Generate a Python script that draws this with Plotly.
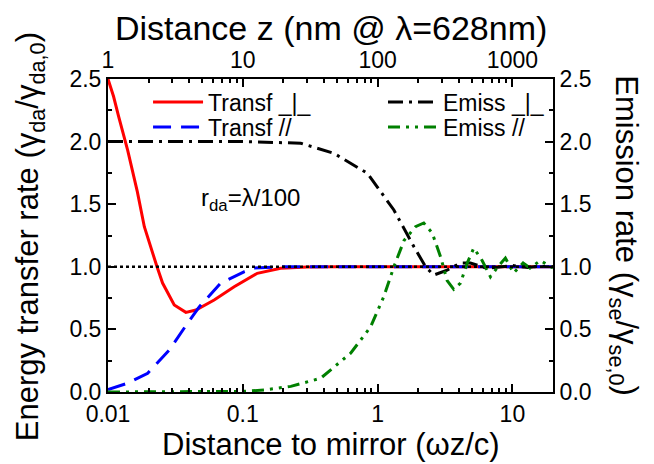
import plotly.graph_objects as go

# ---------------- data ----------------
transf_perp_x = [0.01, 0.011, 0.012, 0.014, 0.0165, 0.0186, 0.0231, 0.0254, 0.031, 0.0378,
                 0.0449, 0.0613, 0.0863, 0.128, 0.191, 0.3, 0.5, 1, 2, 5, 10, 20]
transf_perp_y = [2.5, 2.36, 2.2, 1.93, 1.6, 1.32, 1.0, 0.87, 0.695, 0.636,
                 0.655, 0.735, 0.84, 0.948, 0.988, 0.998, 1.0, 1.0, 1.0, 1.0, 1.0, 1.0]

transf_par_x = [0.01, 0.0108, 0.014, 0.0197, 0.0285, 0.0389, 0.0475, 0.0687, 0.102, 0.12,
                0.2, 0.5, 1, 2, 5, 10, 20]
transf_par_y = [0.02, 0.03, 0.07, 0.15, 0.335, 0.55, 0.68, 0.87, 0.96, 0.99,
                1.0, 1.0, 1.0, 1.0, 1.0, 1.0, 1.0]

emiss_perp_x = [0.01, 0.05, 0.1, 0.269, 0.475, 0.839, 1.32, 1.86, 2.27, 2.61, 3.28, 4.12,
                4.88, 6.46, 8.1, 10, 13, 16, 20]
emiss_perp_y = [2.0, 2.0, 2.0, 1.987, 1.906, 1.747, 1.454, 1.16, 1.0, 0.934, 0.974, 1.03,
                1.03, 0.988, 1.0, 1.01, 0.995, 1.005, 1.0]

emiss_par_x = [0.01, 0.05, 0.1, 0.144, 0.227, 0.378, 0.631, 0.887, 1.11, 1.32, 1.57, 1.91,
               2.2, 2.54, 2.93, 3.28, 3.67, 4.12, 4.62, 5.17, 5.96, 6.87, 7.8, 8.87, 10.2,
               12, 13.5, 16.1, 20]
emiss_par_y = [0.0, 0.0, 0.005, 0.016, 0.045, 0.11, 0.31, 0.52, 0.76, 1.0, 1.21, 1.32,
               1.35, 1.27, 1.08, 0.89, 0.82, 0.87, 1.03, 1.15, 1.05, 0.92, 1.0, 1.07, 0.95,
               1.03, 0.99, 1.05, 0.99]

ref_x = [0.01, 20]
ref_y = [1.0, 1.0]

bottom_tickvals = [0.01, 0.1, 1, 10]
bottom_ticktext = ["0.01", "0.1", "1", "10"]
top_tickvals = [1, 10, 100, 1000]
top_ticktext = ["1", "10", "100", "1000"]
y_tickvals = [0.0, 0.5, 1.0, 1.5, 2.0, 2.5]
y_ticktext = ["0.0", "0.5", "1.0", "1.5", "2.0", "2.5"]
y_minor_vals = [0.25, 0.75, 1.25, 1.75, 2.25]

bottom_minor_vals = [m * d for d in (0.01, 0.1, 1) for m in range(2, 10)]
top_minor_vals = [m * d for d in (1, 10, 100) for m in range(2, 10)]

# ---------------- figure ----------------
FONT = "Liberation Sans, Arial, sans-serif"
fig = go.Figure()

fig.add_trace(go.Scatter(x=transf_perp_x, y=transf_perp_y, mode="lines", name="Transf _|_",
                         line=dict(color="#ff0000", width=3), legend="legend"))
fig.add_trace(go.Scatter(x=transf_par_x, y=transf_par_y, mode="lines", name="Transf //",
                         line=dict(color="#0000ff", width=3, dash="18px,10px"), legend="legend2"))
fig.add_trace(go.Scatter(x=emiss_perp_x, y=emiss_perp_y, mode="lines", name="Emiss _|_",
                         line=dict(color="#000000", width=3, dash="15px,6px,3px,6px"),
                         legend="legend3"))
fig.add_trace(go.Scatter(x=emiss_par_x, y=emiss_par_y, mode="lines", name="Emiss //",
                         line=dict(color="#008000", width=3, dash="12px,6px,3px,6px,3px,6px"),
                         legend="legend4"))
fig.add_trace(go.Scatter(x=ref_x, y=ref_y, mode="lines", showlegend=False,
                         line=dict(color="#000000", width=2.5, dash="dot")))
# invisible traces to activate top & right axes
fig.add_trace(go.Scatter(x=[1, 2000], y=[None, None], xaxis="x2", yaxis="y",
                         showlegend=False, hoverinfo="skip"))
fig.add_trace(go.Scatter(x=[0.01, 20], y=[None, None], xaxis="x", yaxis="y2",
                         showlegend=False, hoverinfo="skip"))

common_axis = dict(showline=True, linecolor="black", linewidth=2, ticks="inside",
                   ticklen=8, tickwidth=2, tickcolor="black", showgrid=False, zeroline=False,
                   tickfont=dict(family=FONT, size=23, color="black"))


def minor(vals):
    return dict(ticks="inside", ticklen=4, tickwidth=1.5, tickcolor="black",
                tickmode="array", tickvals=vals, showgrid=False)


def leg(x, y):
    return dict(x=x, y=y, xanchor="left", yanchor="middle", bgcolor="rgba(0,0,0,0)",
                itemwidth=50, font=dict(family=FONT, size=23, color="black"))


fig.update_layout(
    width=646, height=456,
    margin=dict(l=100, r=101, t=71, b=72),
    paper_bgcolor="white", plot_bgcolor="white",
    font=dict(family=FONT, color="black"),
    xaxis=dict(type="log", range=[-2, 1.30103], tickvals=bottom_tickvals,
               ticktext=bottom_ticktext, minor=minor(bottom_minor_vals), **common_axis),
    xaxis2=dict(type="log", range=[0, 3.30103], overlaying="x", side="top",
                tickvals=top_tickvals, ticktext=top_ticktext,
                minor=minor(top_minor_vals), **common_axis),
    yaxis=dict(range=[0, 2.5], tickvals=y_tickvals, ticktext=y_ticktext,
               minor=minor(y_minor_vals), **common_axis),
    yaxis2=dict(range=[0, 2.5], overlaying="y", side="right", tickvals=y_tickvals,
                ticktext=y_ticktext, minor=minor(y_minor_vals), **common_axis),
    legend=leg(0.09, 0.9265),
    legend2=leg(0.09, 0.8466),
    legend3=leg(0.618, 0.9265),
    legend4=leg(0.618, 0.8466),
    showlegend=True,
)

TITLE_FONT = dict(family=FONT, size=31, color="black")
fig.add_annotation(text="Distance to mirror (ωz/c)", xref="paper", yref="paper",
                   x=0.5, y=-0.167, xanchor="center", yanchor="middle", showarrow=False,
                   font=dict(family=FONT, size=31, color="black"))
fig.add_annotation(text="Distance z (nm @ λ=628nm)", xref="paper", yref="paper",
                   x=0.5, y=1.163, xanchor="center", yanchor="middle", showarrow=False,
                   font=dict(family=FONT, size=34, color="black"))
fig.add_annotation(text="Energy transfer rate (γ<sub>da</sub>/γ<sub>da,0</sub>)",
                   xref="paper", yref="paper", x=-0.175, y=0.495, xanchor="center",
                   yanchor="middle", textangle=-90, showarrow=False, font=TITLE_FONT)
fig.add_annotation(text="Emission rate (γ<sub>se</sub>/γ<sub>se,0</sub>)",
                   xref="paper", yref="paper", x=1.16, y=0.5, xanchor="center",
                   yanchor="middle", textangle=90, showarrow=False, font=TITLE_FONT)
fig.add_annotation(text="r<sub>da</sub>=λ/100", xref="paper", yref="paper",
                   x=0.321, y=0.615, xanchor="center", yanchor="middle", showarrow=False,
                   font=dict(family=FONT, size=24, color="black"))

fig.write_html("out.html")
